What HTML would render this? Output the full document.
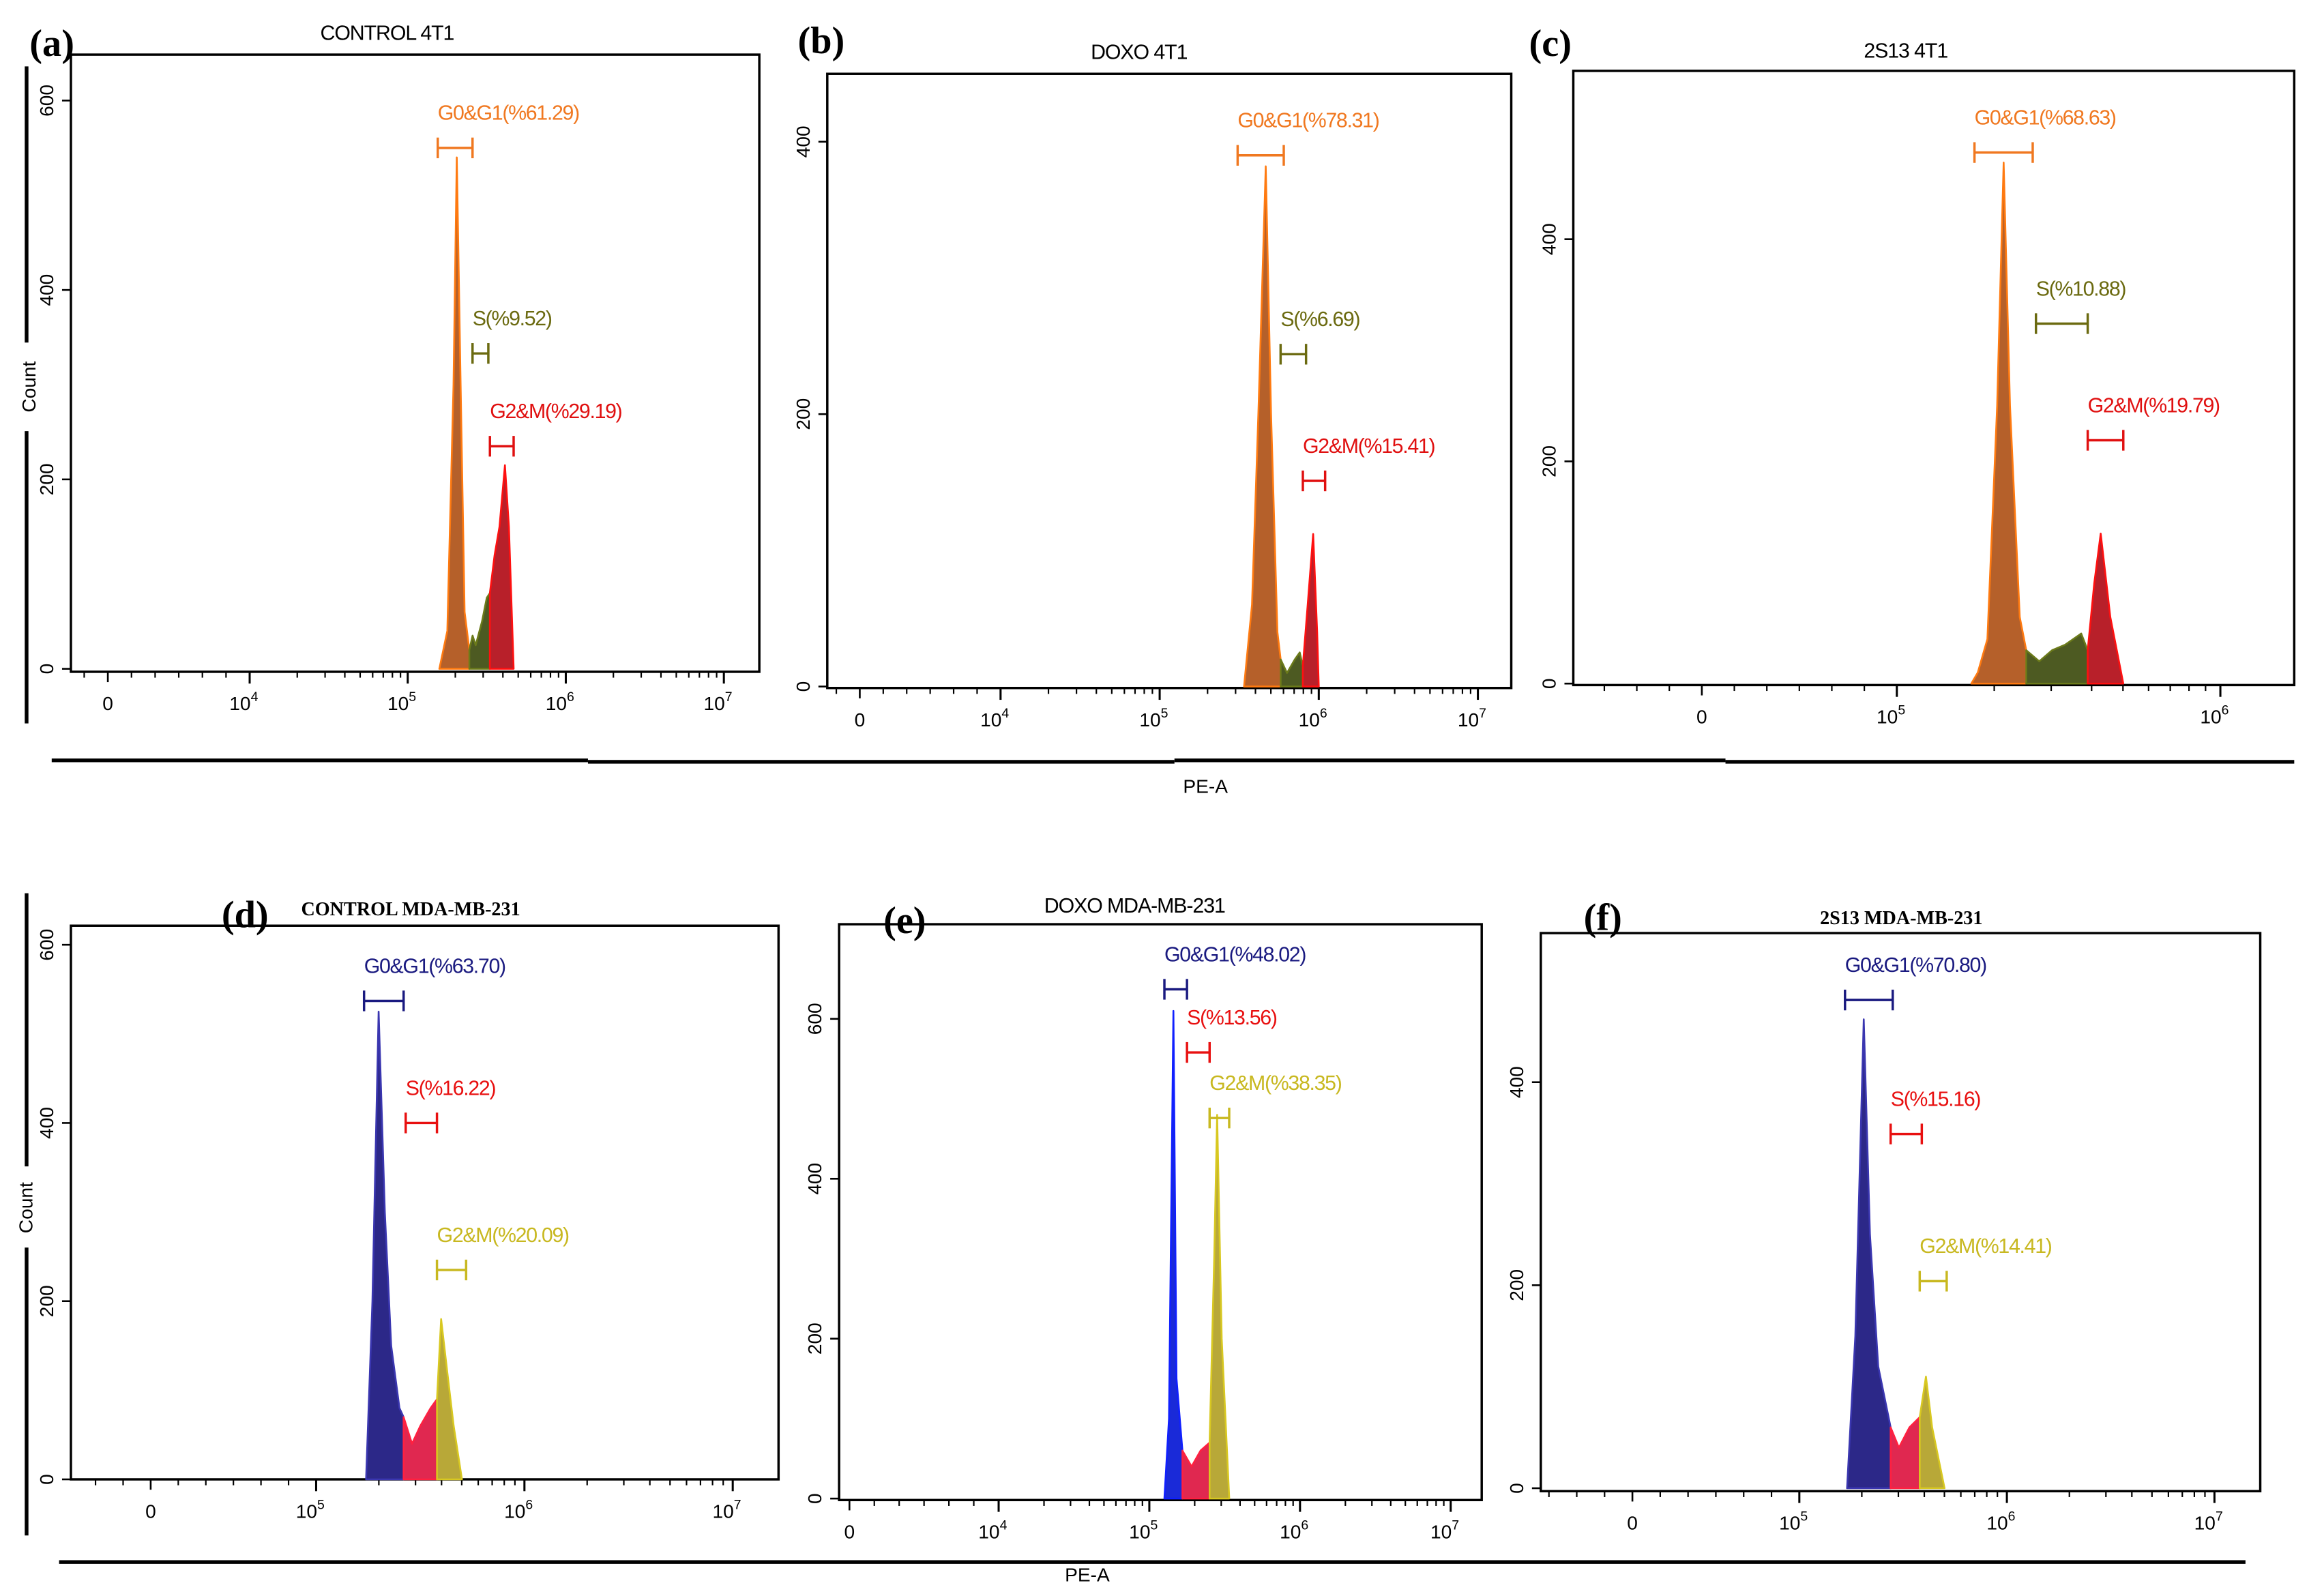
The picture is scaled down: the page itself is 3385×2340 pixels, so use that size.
<!DOCTYPE html>
<html><head><meta charset="utf-8"><style>
html,body{margin:0;padding:0;background:#fff;}
svg{display:block;}
</style></head><body>
<svg id="fig" xmlns="http://www.w3.org/2000/svg" width="3385" height="2340" viewBox="0 0 1563 1081" preserveAspectRatio="none" font-family="Liberation Sans, sans-serif">
<rect x="0" y="0" width="1563" height="1081" fill="#fff"/>
<g id="root"></g>
</svg>
<script>
// ---- data (log10 of PE-A, count) ----
const aG1 = [[5.20,0],[5.25,40],[5.29,300],[5.31,540],[5.335,300],[5.36,60],[5.39,20]];
const aS  = [[5.39,20],[5.41,35],[5.43,25],[5.47,50],[5.50,75],[5.52,80]];
const aG2 = [[5.52,80],[5.55,120],[5.58,150],[5.615,215],[5.64,150],[5.67,0]];
const bG1 = [[5.53,0],[5.58,60],[5.62,200],[5.667,382],[5.70,200],[5.74,40],[5.76,20]];
const bS  = [[5.76,20],[5.80,10],[5.85,20],[5.88,25],[5.90,15]];
const bG2 = [[5.90,15],[5.93,60],[5.965,112],[5.99,40],[6.00,0]];
const cG1 = [[5.23,0],[5.25,10],[5.28,40],[5.31,250],[5.33,469],[5.35,250],[5.38,60],[5.40,30]];
const cS  = [[5.40,30],[5.44,20],[5.48,30],[5.52,35],[5.57,45],[5.59,30]];
const cG2 = [[5.59,30],[5.61,90],[5.63,135],[5.66,60],[5.70,0]];
const dG1 = [[5.24,0],[5.27,200],[5.30,525],[5.33,300],[5.36,150],[5.40,80],[5.42,70]];
const dS  = [[5.42,70],[5.46,40],[5.50,60],[5.55,80],[5.58,90]];
const dG2 = [[5.58,90],[5.60,180],[5.63,120],[5.66,60],[5.70,0]];
const eG1 = [[5.10,0],[5.13,100],[5.16,610],[5.18,150],[5.22,60]];
const eS  = [[5.22,60],[5.28,40],[5.34,60],[5.40,70]];
const eG2 = [[5.40,70],[5.43,300],[5.45,480],[5.48,200],[5.53,0]];
const fG1 = [[5.23,0],[5.27,150],[5.31,462],[5.34,250],[5.38,120],[5.44,60]];
const fS  = [[5.44,60],[5.48,40],[5.53,60],[5.58,70]];
const fG2 = [[5.58,70],[5.61,110],[5.64,60],[5.70,0]];
// gates: [logStart, logEnd, countLevel]
const aGates = [[5.19,5.41,550],[5.41,5.51,333],[5.52,5.67,235]];
const bGates = [[5.49,5.78,390],[5.76,5.92,244],[5.90,6.04,151]];
const cGates = [[5.24,5.42,478],[5.43,5.59,324],[5.59,5.70,219]];
const dGates = [[5.23,5.42,537],[5.43,5.58,400],[5.58,5.72,235]];
const eGates = [[5.10,5.25,637],[5.25,5.40,558],[5.40,5.53,476]];
const fGates = [[5.22,5.45,481],[5.44,5.59,349],[5.58,5.71,204]];
const aLabels = ["G0&G1(%61.29)","S(%9.52)","G2&M(%29.19)"];
const bLabels = ["G0&G1(%78.31)","S(%6.69)","G2&M(%15.41)"];
const cLabels = ["G0&G1(%68.63)","S(%10.88)","G2&M(%19.79)"];
const dLabels = ["G0&G1(%63.70)","S(%16.22)","G2&M(%20.09)"];
const eLabels = ["G0&G1(%48.02)","S(%13.56)","G2&M(%38.35)"];
const fLabels = ["G0&G1(%70.80)","S(%15.16)","G2&M(%14.41)"];
const aYTicks=[0,200,400,600], bYTicks=[0,200,400], cYTicks=[0,200,400], dYTicks=[0,200,400,600], eYTicks=[0,200,400,600], fYTicks=[0,200,400];

const NS="http://www.w3.org/2000/svg";
const root=document.getElementById('root');
function mk(tag,attrs,parent){const e=document.createElementNS(NS,tag);for(const k in attrs)e.setAttribute(k,attrs[k]);(parent||root).appendChild(e);return e;}
const SERIF="'Liberation Serif', serif", SANS="'Liberation Sans', sans-serif";

const top4T1=[["#b5602a","#ff7a10"],["#4d5a22","#6b7a1a"],["#b8202a","#ff1010"]];
const topLab=["#f07820","#6b6a10","#e01010"];
const botB=[["#2c2888","#3a36b0"],["#e02850","#ff2040"],["#b8a838","#d8c820"]];
const botLab=["#1a1a80","#e81010","#c8b820"];
const botE=[["#1a2ad8","#1020ff"],["#e02850","#ff2040"],["#b8a838","#d8c820"]];

const panels=[
 {id:'a',x0:48,x1:514,y0:37,y1:455,yb:453,ys:128.3/200,px0:73,px5:276,dec:107,dmin:4,dmax:7,title:"CONTROL 4T1",tx:262,ty:27,lx:20,ly:38,hist:[aG1,aS,aG2],gates:aGates,labels:aLabels,yt:aYTicks,cols:top4T1,lc:topLab,serifTitle:false},
 {id:'b',x0:560,x1:1023,y0:50,y1:466,yb:465,ys:184.5/200,px0:582,px5:785,dec:107.7,dmin:4,dmax:7,title:"DOXO 4T1",tx:771,ty:40,lx:540,ly:36,hist:[bG1,bS,bG2],gates:bGates,labels:bLabels,yt:bYTicks,cols:top4T1,lc:topLab,serifTitle:false},
 {id:'c',x0:1065,x1:1553,y0:48,y1:464,yb:463,ys:150.5/200,px0:1152,px5:1284,dec:219,dmin:5,dmax:6,title:"2S13 4T1",tx:1290,ty:39,lx:1035,ly:38,hist:[cG1,cS,cG2],gates:cGates,labels:cLabels,yt:cYTicks,cols:top4T1,lc:topLab,serifTitle:false},
 {id:'d',x0:48,x1:527,y0:627,y1:1002,yb:1002,ys:120.7/200,px0:102,px5:214,dec:141,dmin:5,dmax:7,title:"CONTROL MDA-MB-231",tx:278,ty:620,lx:150,ly:628,hist:[dG1,dS,dG2],gates:dGates,labels:dLabels,yt:dYTicks,cols:botB,lc:botLab,serifTitle:true},
 {id:'e',x0:568,x1:1003,y0:626,y1:1016,yb:1015,ys:108.3/200,px0:575,px5:778,dec:102,dmin:4,dmax:7,title:"DOXO MDA-MB-231",tx:768,ty:618,lx:598,ly:632,hist:[eG1,eS,eG2],gates:eGates,labels:eLabels,yt:eYTicks,cols:botE,lc:botLab,serifTitle:false},
 {id:'f',x0:1043,x1:1530,y0:632,y1:1010,yb:1008,ys:137.5/200,px0:1105,px5:1218,dec:140.5,dmin:5,dmax:7,title:"2S13  MDA-MB-231",tx:1287,ty:626,lx:1072,ly:630,hist:[fG1,fS,fG2],gates:fGates,labels:fLabels,yt:fYTicks,cols:botB,lc:botLab,serifTitle:true}
];

panels.forEach(p=>{
 const g=mk('g',{});
 
 
 const X=v=>p.px5+(v-5)*p.dec;
 const Y=c=>p.yb-c*p.ys;
 const fr=mk('rect',{x:p.x0,y:p.y0,width:p.x1-p.x0,height:p.y1-p.y0,fill:'none',stroke:'#000','stroke-width':1.6},g);
 
 
 const lt=mk('text',{x:p.lx,y:p.ly,'font-size':26,'font-weight':'bold',style:'font-family:'+SERIF},g);
 lt.textContent='('+p.id+')';
 
 
 const tt=mk('text',{x:p.tx,y:p.ty,'font-size':p.serifTitle?13:14,'text-anchor':'middle','font-weight':p.serifTitle?'bold':'normal',style:'font-family:'+(p.serifTitle?SERIF:SANS)+(p.serifTitle?'':';letter-spacing:-0.5px')},g);
 tt.textContent=p.title;
 
 
 p.yt.forEach(v=>{
  const y=Y(v);
  mk('line',{x1:p.x0-6,x2:p.x0,y1:y,y2:y,stroke:'#000','stroke-width':1.2},g);
  const t=mk('text',{x:p.x0-12,y:y,'font-size':13,'text-anchor':'middle',transform:`rotate(-90 ${p.x0-12} ${y})`,style:'font-family:'+SANS},g);
  t.textContent=v;
  
  
 });
 const yb=p.y1;
 mk('line',{x1:p.px0,x2:p.px0,y1:yb,y2:yb+7,stroke:'#000','stroke-width':1.2},g);
 const t0=mk('text',{x:p.px0,y:yb+26,'font-size':13,'text-anchor':'middle',style:'font-family:'+SANS},g);
 t0.textContent='0';
 
 
 const first=X(p.dmin);
 for(let k=1;k<6;k++){const xx=p.px0+(first-p.px0)*k/6;mk('line',{x1:xx,x2:xx,y1:yb,y2:yb+4,stroke:'#000','stroke-width':1},g);}
 for(let k=1;k<4;k++){const xx=p.px0-(first-p.px0)*k/6;if(xx>p.x0+2)mk('line',{x1:xx,x2:xx,y1:yb,y2:yb+4,stroke:'#000','stroke-width':1},g);}
 for(let d=p.dmin;d<=p.dmax;d++){
  const xx=X(d);
  mk('line',{x1:xx,x2:xx,y1:yb,y2:yb+8,stroke:'#000','stroke-width':1.4},g);
  const t=mk('text',{x:xx-4,y:yb+26,'font-size':13,'text-anchor':'middle',style:'font-family:'+SANS},g);
  t.textContent='10';
  const s=mk('tspan',{dy:-6,'font-size':9},t);s.textContent=d;
  
  
  if(d<p.dmax){for(let k=2;k<10;k++){const mx=X(d+Math.log10(k));mk('line',{x1:mx,x2:mx,y1:yb,y2:yb+4,stroke:'#000','stroke-width':1},g);}}
 }
 const names=['g0g1','s-phase','g2m'];
 p.hist.forEach((h,i)=>{
  let pts=h.map(q=>X(q[0]).toFixed(1)+','+Y(q[1]).toFixed(1));
  pts.push(X(h[h.length-1][0]).toFixed(1)+','+p.yb,X(h[0][0]).toFixed(1)+','+p.yb);
  const pg=mk('polygon',{points:pts.join(' '),fill:p.cols[i][0],stroke:p.cols[i][1],'stroke-width':1.2,'stroke-linejoin':'round'},g);
  
  
 });
 p.gates.forEach((gt,i)=>{
  const x1=X(gt[0]),x2=X(gt[1]),y=Y(gt[2]),c=p.lc[i];
  const gg=mk('g',{stroke:c,'stroke-width':1.6},g);
  
  
  mk('line',{x1:x1,x2:x2,y1:y,y2:y},gg);
  mk('line',{x1:x1,x2:x1,y1:y-7,y2:y+7},gg);
  mk('line',{x1:x2,x2:x2,y1:y-7,y2:y+7},gg);
  const lt2=mk('text',{x:x1,y:y-19,'font-size':14,fill:c,style:'font-family:'+SANS+';letter-spacing:-0.6px'},g);
  lt2.textContent=p.labels[i];
  
  
 });
});
[[35,515,398,515],[398,516,795,516],[795,515,1168,515],[1168,516,1553,516],[40,1058,1520,1058],[18,45,18,232],[18,292,18,490],[18,605,18,790],[18,845,18,1040]].forEach(l=>{
 const e=mk('line',{x1:l[0],y1:l[1],x2:l[2],y2:l[3],stroke:'#000','stroke-width':2.5});
 
 
});
[[816,537,'PE-A',0,'x-axis-title-top'],[736,1071,'PE-A',0,'x-axis-title-bottom'],[20,262,'Count',-90,'y-axis-title-top'],[18,818,'Count',-90,'y-axis-title-bottom']].forEach(a=>{
 const t=mk('text',{x:a[0],y:a[1],'font-size':13,'text-anchor':'middle',transform:a[3]?`rotate(${a[3]} ${a[0]} ${a[1]})`:'',style:'font-family:'+SANS});
 if(a[3])t.setAttribute('dy','4');
 t.textContent=a[2];
 
 
});
</script>
</body></html>
